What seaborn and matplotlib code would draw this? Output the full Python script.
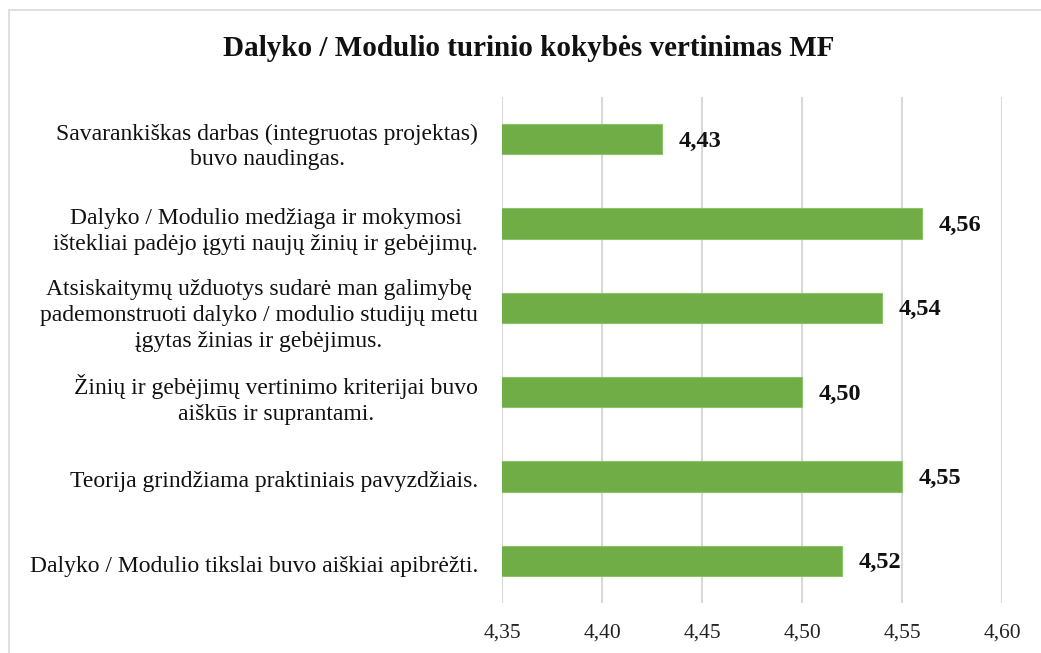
import matplotlib
matplotlib.use("Agg")
import matplotlib.pyplot as plt
import seaborn as sns
import pandas as pd
from matplotlib.patches import Rectangle
from matplotlib.transforms import offset_copy

categories = [
    "Savarankiškas darbas (integruotas projektas)\nbuvo naudingas.",
    "Dalyko / Modulio medžiaga ir mokymosi\ništekliai padėjo įgyti naujų žinių ir gebėjimų.",
    "Atsiskaitymų užduotys sudarė man galimybę\npademonstruoti dalyko / modulio studijų metu\nįgytas žinias ir gebėjimus.",
    "Žinių ir gebėjimų vertinimo kriterijai buvo\naiškūs ir suprantami.",
    "Teorija grindžiama praktiniais pavyzdžiais.",
    "Dalyko / Modulio tikslai buvo aiškiai apibrėžti.",
]
values = [4.43, 4.56, 4.54, 4.50, 4.55, 4.52]
value_labels = ["4,43", "4,56", "4,54", "4,50", "4,55", "4,52"]
tick_values = [4.35, 4.40, 4.45, 4.50, 4.55, 4.60]
tick_labels = ["4,35", "4,40", "4,45", "4,50", "4,55", "4,60"]
title = "Dalyko / Modulio turinio kokybės vertinimas MF"

sns.set_theme(style="white")
plt.rcParams["font.family"] = ["Liberation Serif", "DejaVu Serif"]

df = pd.DataFrame({"cat": categories, "val": values})

fig = plt.figure(figsize=(10.41, 6.53), dpi=100)
ax = fig.add_axes([502 / 1041, 1 - 603 / 653, 500 / 1041, 506 / 653])

sns.barplot(data=df, y="cat", x="val", orient="h", color="#70AD47", saturation=1,
            width=0.36, edgecolor="#8CC168", linewidth=0.8, ax=ax, zorder=3)

ax.set_xlim(4.35, 4.60)
ax.set_ylim(len(categories) - 0.5, -0.5)
ax.set_xticks(tick_values)
ax.set_xticklabels(tick_labels, fontsize=15.5, color="#222222")
ax.set_yticks(range(len(categories)))
ax.set_yticklabels(categories, fontsize=17, color="#111111", ha="center",
                   multialignment="center", linespacing=1.3)
ax.set_xlabel("")
ax.set_ylabel("")
ax.tick_params(axis="x", length=0, pad=15)
ax.tick_params(axis="y", length=0, pad=24)

fig.canvas.draw()
renderer = fig.canvas.get_renderer()
for lab in ax.get_yticklabels():
    w = lab.get_window_extent(renderer).width
    lab.set_horizontalalignment("center")
    lab.set_transform(offset_copy(ax.get_yaxis_transform(), fig=fig,
                                  x=-(24 + w / 2) * 72 / fig.dpi, y=-2, units="points"))
    lab.set_x(0)

for s in ax.spines.values():
    s.set_visible(False)
ax.grid(axis="x", color="#D9D9D9", linewidth=1.5, zorder=0)
ax.grid(axis="y", visible=False)
ax.set_axisbelow(True)

for i, (v, t) in enumerate(zip(values, value_labels)):
    ax.annotate(t, xy=(v, i), xytext=(12, -1.5), textcoords="offset points",
                ha="left", va="center", fontsize=17.5, fontweight="bold", color="#111111")

fig.text(529 / 1041, 1 - 48 / 653, title, ha="center", va="center",
         fontsize=21, fontweight="bold", color="#111111")

fig.patches.append(Rectangle((9 / 1041, -0.5), 2, 1 - 10 / 653 + 0.5,
                             transform=fig.transFigure, fill=False,
                             edgecolor="#D9D9D9", linewidth=1.2))

fig.savefig("out.png", dpi=100)
